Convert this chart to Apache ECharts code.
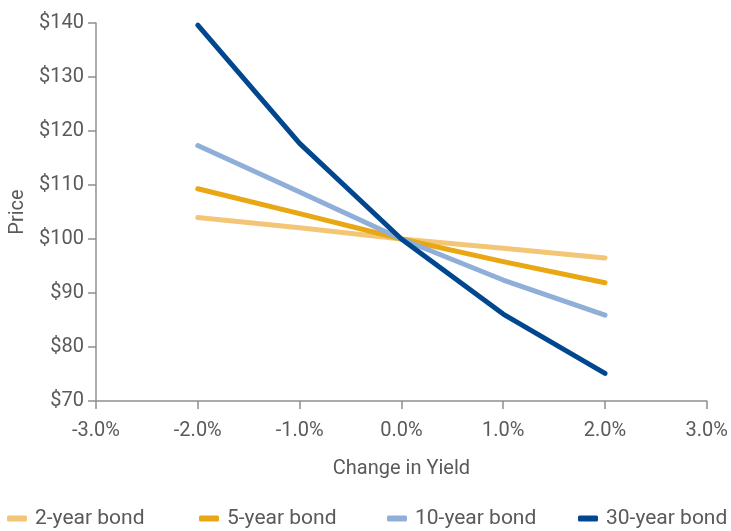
<!DOCTYPE html>
<html>
<head>
<meta charset="utf-8">
<script src="https://cdn.jsdelivr.net/npm/echarts@6/dist/echarts.min.js"></script>
<style>
  html, body { margin: 0; padding: 0; background: #fff; }
  #chart { width: 731px; height: 531px; }
</style>
</head>
<body>
<div id="chart"></div>
<script>
// change in yield (%) and bond prices
const yieldChange = [-2, -1, 0, 1, 2]
const bond2 = [104.0, 102.1, 100, 98.3, 96.5]
const bond5 = [109.3, 104.7, 100, 95.8, 91.9]
const bond10 = [117.3, 108.7, 100, 92.4, 85.9]
const bond30 = [139.6, 117.7, 100, 86.1, 75.1]
const seriesNames = ['2-year bond', '5-year bond', '10-year bond', '30-year bond']

const colors = ['#F3C677', '#E8A713', '#8FAFD9', '#00478F']
const font = 'Roboto'
const textColor = '#5a5a5a'
const axisColor = '#8f8f8f'

const chart = echarts.init(document.getElementById('chart'))

function pairs(vals) {
  return yieldChange.map((x, i) => [x, vals[i]])
}

const allData = [bond2, bond5, bond10, bond30]
const series = seriesNames.map((name, i) => ({
  name: name,
  type: 'line',
  data: pairs(allData[i]),
  showSymbol: false,
  symbol: 'none',
  lineStyle: { width: 5, color: colors[i], cap: 'round', join: 'round' },
  itemStyle: { color: colors[i] }
}))

const legendLeft = [7, 199, 387, 578]
const legends = seriesNames.map((name, i) => ({
  data: [name],
  left: legendLeft[i],
  top: 508,
  padding: 0,
  icon: 'roundRect',
  itemWidth: 20,
  itemHeight: 6,
  textStyle: { fontFamily: font, fontSize: 21, color: textColor, padding: [0, 0, 0, 3] }
}))

const option = {
  animation: false,
  color: colors,
  legend: legends,
  grid: { left: 96, right: 23, top: 23, bottom: 130 },
  xAxis: {
    type: 'value',
    min: -3,
    max: 3,
    interval: 1,
    name: 'Change in Yield',
    nameLocation: 'middle',
    nameGap: 58,
    nameTextStyle: { fontFamily: font, fontSize: 20, color: textColor },
    axisLine: { lineStyle: { color: axisColor, width: 1.5 } },
    axisTick: { show: true, length: 8, lineStyle: { color: axisColor, width: 1.5 } },
    axisLabel: {
      margin: 20,
      fontFamily: font,
      fontSize: 20,
      color: textColor,
      formatter: v => v.toFixed(1) + '%'
    },
    splitLine: { show: false }
  },
  yAxis: {
    type: 'value',
    min: 70,
    max: 140,
    interval: 10,
    name: 'Price',
    nameLocation: 'middle',
    nameGap: 68,
    nameTextStyle: { fontFamily: font, fontSize: 20, color: textColor },
    axisLine: { show: true, onZero: false, lineStyle: { color: axisColor, width: 1.5 } },
    axisTick: { show: true, length: 8, lineStyle: { color: axisColor, width: 1.5 } },
    axisLabel: {
      margin: 12,
      fontFamily: font,
      fontSize: 20,
      color: textColor,
      formatter: v => '$' + v
    },
    splitLine: { show: false }
  },
  series: series
}

chart.setOption(option)
window.addEventListener('resize', function () {
  chart.resize()
})
</script>
</body>
</html>
